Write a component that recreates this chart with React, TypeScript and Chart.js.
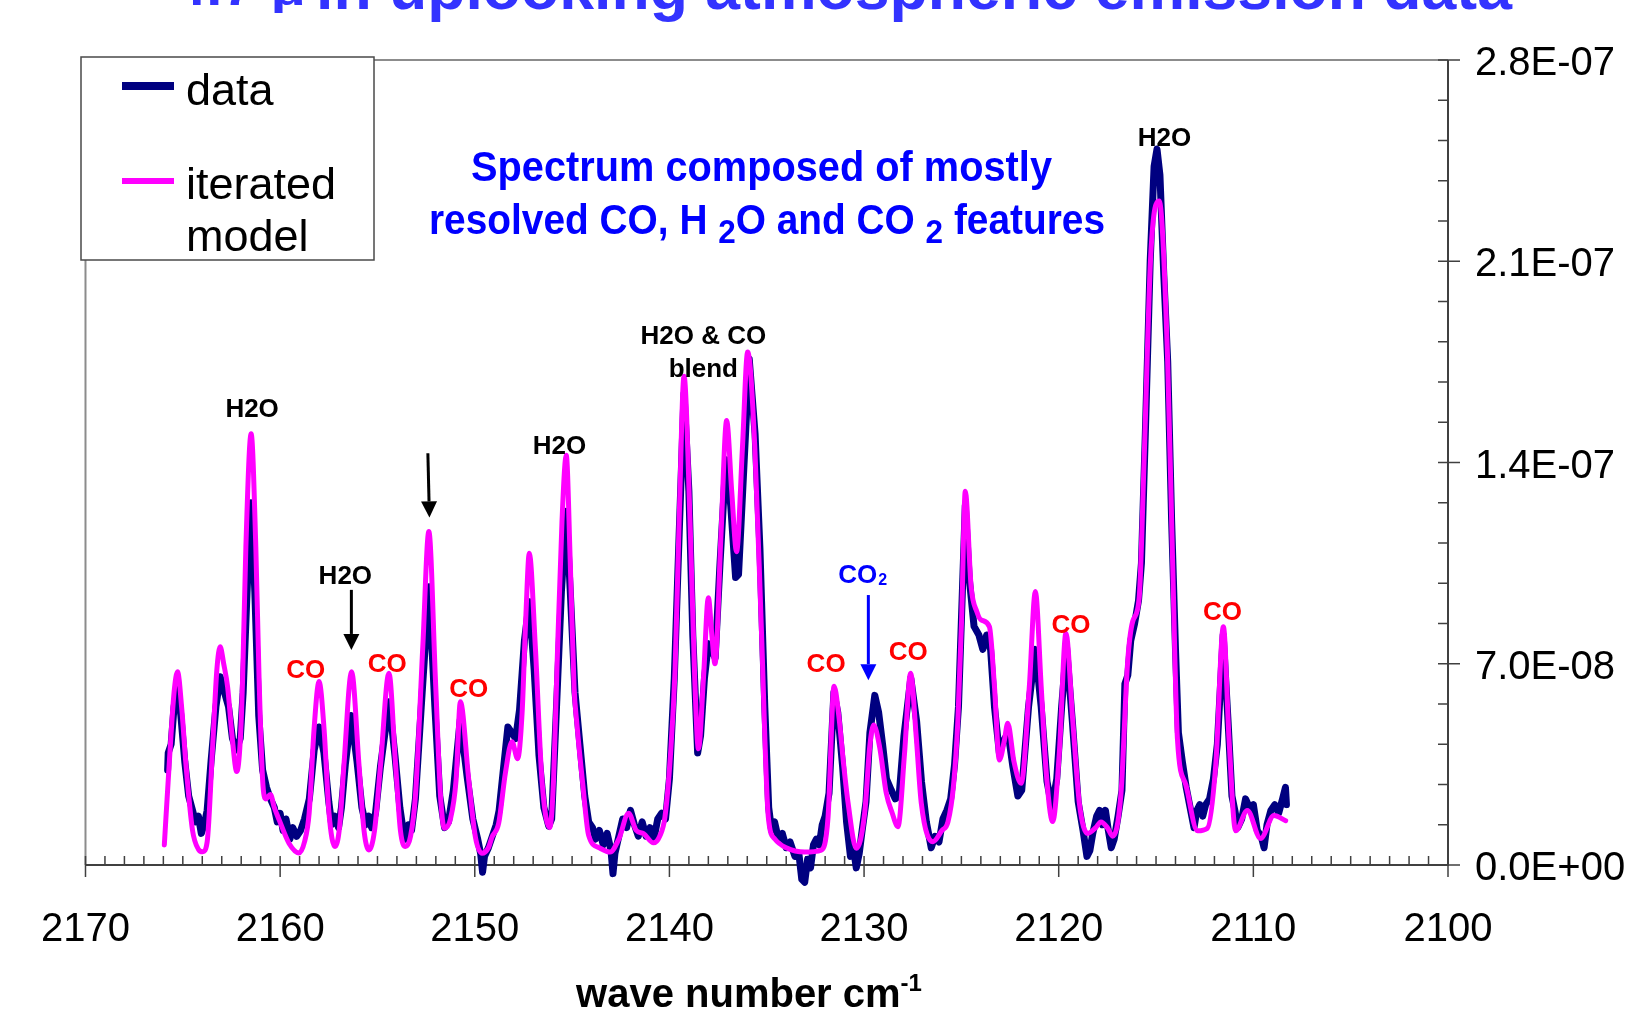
import React, { useEffect, useRef } from "react";
import { Chart, registerables } from "chart.js";

Chart.register(...registerables);

// Radiance values below are in units of 1e-8; the right-hand axis labels convert back.
const RADIANCE_UNIT = 1e-8;

// Measured spectrum (wave number in cm-1, radiance / 1e-8)
const DATA_WAVENUMBER = [
  2165.78, 2165.75, 2165.6, 2165.45, 2165.27, 2165.1, 2164.9, 2164.7, 2164.5, 2164.35,
  2164.2, 2164.05, 2163.9, 2163.75, 2163.55, 2163.3, 2163.08, 2162.9, 2162.65, 2162.45,
  2162.25, 2162.05, 2161.9, 2161.7, 2161.5, 2161.3, 2161.1, 2160.9, 2160.7, 2160.5,
  2160.3, 2160.15, 2160.0, 2159.85, 2159.7, 2159.5, 2159.35, 2159.15, 2158.95, 2158.75,
  2158.5, 2158.25, 2158.0, 2157.75, 2157.5, 2157.35, 2157.2, 2157.0, 2156.85, 2156.65,
  2156.35, 2156.05, 2155.8, 2155.6, 2155.45, 2155.3, 2155.1, 2154.85, 2154.4, 2154.1,
  2153.85, 2153.7, 2153.55, 2153.4, 2153.25, 2153.05, 2152.75, 2152.35, 2152.05, 2151.8,
  2151.55, 2151.35, 2151.1, 2150.75, 2150.4, 2150.1, 2149.85, 2149.7, 2149.6, 2149.5,
  2149.3, 2149.1, 2148.9, 2148.75, 2148.55, 2148.3, 2148.1, 2147.9, 2147.7, 2147.45,
  2147.2, 2146.95, 2146.7, 2146.45, 2146.2, 2146.05, 2145.8, 2145.55, 2145.3, 2145.1,
  2144.85, 2144.6, 2144.35, 2144.15, 2143.95, 2143.8, 2143.6, 2143.4, 2143.2, 2143.0,
  2142.9, 2142.8, 2142.6, 2142.4, 2142.2, 2142.0, 2141.8, 2141.6, 2141.4, 2141.2,
  2141.0, 2140.8, 2140.6, 2140.4, 2140.2, 2140.0, 2139.75, 2139.5, 2139.25, 2139.0,
  2138.8, 2138.55, 2138.4, 2138.2, 2138.0, 2137.85, 2137.65, 2137.4, 2137.1, 2136.85,
  2136.6, 2136.45, 2136.2, 2135.9, 2135.6, 2135.35, 2135.1, 2134.9, 2134.75, 2134.6,
  2134.4, 2134.2, 2134.0, 2133.8, 2133.55, 2133.35, 2133.2, 2133.05, 2132.9, 2132.75,
  2132.6, 2132.45, 2132.3, 2132.15, 2132.0, 2131.8, 2131.55, 2131.35, 2131.1, 2130.9,
  2130.7, 2130.55, 2130.4, 2130.25, 2130.1, 2129.9, 2129.7, 2129.45, 2129.25, 2129.05,
  2128.85, 2128.6, 2128.4, 2128.2, 2127.95, 2127.6, 2127.3, 2127.05, 2126.8, 2126.55,
  2126.35, 2126.15, 2125.95, 2125.75, 2125.55, 2125.35, 2125.15, 2124.95, 2124.8, 2124.6,
  2124.35, 2124.1, 2123.9, 2123.7, 2123.5, 2123.3, 2123.05, 2122.85, 2122.6, 2122.35,
  2122.1, 2121.9, 2121.55, 2121.2, 2120.9, 2120.6, 2120.35, 2120.1, 2119.85, 2119.6,
  2119.3, 2119.0, 2118.75, 2118.55, 2118.4, 2118.25, 2118.05, 2117.9, 2117.75, 2117.6,
  2117.45, 2117.3, 2117.15, 2116.95, 2116.75, 2116.6, 2116.45, 2116.3, 2116.1, 2115.9,
  2115.75, 2115.55, 2115.3, 2115.1, 2114.95, 2114.8, 2114.6, 2114.4, 2114.2, 2114.0,
  2113.85, 2113.65, 2113.45, 2113.25, 2113.05, 2112.9, 2112.75, 2112.6, 2112.45, 2112.25,
  2112.05, 2111.85, 2111.55, 2111.3, 2111.1, 2110.95, 2110.8, 2110.6, 2110.4, 2110.2,
  2110.0, 2109.8, 2109.6, 2109.45, 2109.3, 2109.1, 2108.9, 2108.7, 2108.5, 2108.35,
  2108.3,
];
const DATA_RADIANCE = [
  3.3, 3.9, 4.2, 5.5, 6.2, 5.2, 3.6, 2.4, 1.9, 1.5,
  1.7, 1.1, 1.4, 1.9, 3.6, 5.5, 6.55, 6.1, 5.5, 4.4,
  4.0, 4.4, 6.0, 9.5, 12.6, 9.5, 5.2, 3.3, 2.7, 2.3,
  2.0, 1.5, 1.8, 1.2, 1.6, 0.9, 1.3, 1.0, 1.2, 1.6,
  2.3, 4.0, 4.8, 3.9, 2.2, 1.4, 1.7, 1.3, 2.0, 3.5,
  5.2, 3.6, 2.0, 1.4, 1.7, 1.3, 1.8, 3.4, 5.68, 3.8,
  2.0, 1.3, 0.9, 1.4, 1.2, 2.3, 5.5, 9.68, 5.5, 2.4,
  1.3, 1.5, 2.6, 5.04, 3.1, 1.6, 0.9, 0.4, -0.25, 0.3,
  0.6, 1.0, 1.4, 1.9, 3.2, 4.8, 4.6, 4.4, 5.4, 7.8,
  9.16, 6.8, 3.8, 2.0, 1.35, 1.6, 5.5, 9.5, 12.3, 9.6,
  6.0, 4.2, 2.4, 1.5, 1.3, 0.9, 1.2, 0.7, 1.1, 0.5,
  -0.3, 0.4, 1.0, 1.6, 1.3, 1.9, 1.4, 1.0, 1.5, 1.0,
  1.3, 0.9, 1.6, 1.8, 1.6, 3.0, 6.5, 11.5, 16.4, 13.0,
  8.0, 3.9, 4.5, 6.5, 7.7, 7.5, 7.2, 10.5, 14.1, 12.5,
  10.0, 10.1, 13.5, 17.6, 15.0, 11.0, 5.5, 2.0, 1.2, 1.5,
  0.9, 1.1, 0.6, 0.8, 0.3, 0.4, -0.5, -0.6, 0.2, -0.1,
  0.7, 0.9, 0.7, 1.4, 1.7, 2.5, 6.0, 5.3, 3.4, 1.5,
  0.3, 0.6, -0.1, 0.4, 1.2, 2.2, 4.6, 5.9, 5.3, 4.2,
  3.0, 2.6, 2.3, 2.4, 4.5, 6.5, 5.0, 2.9, 1.5, 0.6,
  1.0, 0.8, 1.6, 1.9, 2.3, 3.5, 5.5, 9.5, 12.5, 10.0,
  8.3, 8.0, 7.5, 8.0, 7.5, 5.5, 3.9, 4.3, 4.6, 3.4,
  2.4, 2.6, 5.5, 7.5, 5.5, 2.9, 2.0, 3.0, 5.5, 7.6,
  5.0, 2.2, 1.2, 0.3, 0.5, 1.1, 1.7, 1.9, 1.4, 1.9,
  1.2, 0.6, 0.9, 1.7, 2.6, 6.3, 6.6, 7.8, 8.4, 9.2,
  10.5, 15.0, 21.0, 24.3, 24.9, 24.0, 20.5, 17.5, 12.0, 7.5,
  4.6, 3.6, 2.7, 2.0, 1.3, 1.9, 2.1, 1.7, 2.1, 2.3,
  3.0, 4.2, 8.0, 5.0, 2.4, 1.9, 1.3, 1.6, 2.3, 2.0,
  2.1, 1.2, 1.0, 0.6, 1.4, 1.9, 2.1, 1.8, 2.3, 2.7,
  2.1,
];

// Iterated model spectrum (wave number in cm-1, radiance / 1e-8)
const MODEL_WAVENUMBER = [
  2165.95, 2165.7, 2165.45, 2165.27, 2165.05, 2164.84, 2164.5, 2164.2, 2163.98, 2163.75,
  2163.47, 2163.25, 2163.08, 2162.9, 2162.7, 2162.45, 2162.23, 2162.05, 2161.93, 2161.76,
  2161.49, 2161.25, 2161.08, 2160.9, 2160.74, 2160.5, 2160.3, 2160.05, 2159.54, 2159.03,
  2158.75, 2158.51, 2158.26, 2158.0, 2157.74, 2157.49, 2157.18, 2156.95, 2156.72, 2156.33,
  2155.95, 2155.69, 2155.44, 2155.15, 2154.84, 2154.41, 2154.07, 2153.82, 2153.56, 2153.3,
  2153.05, 2152.67, 2152.36, 2152.02, 2151.76, 2151.56, 2151.25, 2150.96, 2150.74, 2150.31,
  2149.97, 2149.63, 2149.3, 2149.11, 2148.77, 2148.43, 2148.09, 2147.8, 2147.57, 2147.37,
  2147.2, 2146.89, 2146.55, 2146.15, 2145.95, 2145.78, 2145.52, 2145.3, 2145.1, 2144.9,
  2144.75, 2144.45, 2144.15, 2143.6, 2143.05, 2142.6, 2142.1, 2141.7, 2141.33, 2140.82,
  2140.5, 2140.23, 2139.95, 2139.71, 2139.5, 2139.25, 2138.94, 2138.7, 2138.51, 2138.25,
  2138.0, 2137.82, 2137.66, 2137.35, 2137.06, 2136.8, 2136.55, 2136.25, 2135.98, 2135.61,
  2135.27, 2134.92, 2134.58, 2134.0, 2133.05, 2132.2, 2131.85, 2131.54, 2131.3, 2131.05,
  2130.82, 2130.4, 2129.97, 2129.71, 2129.51, 2129.2, 2128.86, 2128.55, 2128.26, 2127.92,
  2127.61, 2127.32, 2127.06, 2126.46, 2126.0, 2125.69, 2125.4, 2125.18, 2124.99, 2124.8,
  2124.5, 2124.2, 2123.98, 2123.56, 2123.3, 2123.05, 2122.8, 2122.62, 2122.3, 2121.93,
  2121.51, 2121.2, 2120.9, 2120.65, 2120.31, 2119.97, 2119.63, 2119.28, 2118.94, 2118.51,
  2118.1, 2117.83, 2117.5, 2117.23, 2116.8, 2116.46, 2116.2, 2115.87, 2115.61, 2115.27,
  2114.84, 2114.41, 2114.15, 2113.9, 2113.47, 2112.87, 2112.36, 2111.93, 2111.54, 2111.25,
  2110.91, 2110.31, 2109.63, 2108.94, 2108.34,
];
const MODEL_RADIANCE = [
  0.7, 3.5, 6.0, 6.72, 5.4, 3.5, 1.2, 0.55, 0.46, 0.8,
  4.1, 6.8, 7.59, 7.0, 6.2, 4.35, 3.25, 4.3, 6.43, 11.07,
  15.0, 11.07, 6.43, 2.96, 2.3, 2.45, 2.0, 1.57, 0.75, 0.42,
  0.8, 1.8, 4.7, 6.38, 4.7, 1.8, 0.64, 1.3, 3.5, 6.72,
  3.5, 1.2, 0.52, 1.2, 3.5, 6.67, 3.5, 1.2, 0.64, 1.0,
  2.4, 7.6, 11.6, 6.43, 2.4, 1.28, 1.6, 2.96, 5.68, 2.96,
  0.98, 0.41, 0.6, 0.98, 1.46, 3.19, 4.29, 3.7, 5.28, 8.75,
  10.84, 7.6, 2.96, 1.3, 3.0, 6.8, 11.94, 14.25, 10.65, 6.2,
  4.88, 2.8, 1.03, 0.6, 0.45, 0.9, 1.8, 1.2, 1.09, 0.77,
  1.0, 1.67, 3.8, 6.8, 12.0, 17.0, 11.94, 6.5, 4.04, 6.5,
  9.3, 8.0, 7.0, 11.5, 15.46, 13.0, 10.9, 14.5, 17.84, 14.5,
  8.09, 1.67, 0.9, 0.6, 0.45, 0.52, 1.67, 6.22, 5.2, 3.5,
  2.15, 0.58, 1.8, 4.1, 4.87, 4.1, 2.5, 1.8, 1.33, 3.89,
  6.67, 4.46, 2.15, 0.81, 1.2, 1.5, 2.8, 5.04, 8.52, 13.0,
  9.68, 8.8, 8.52, 8.29, 6.2, 3.65, 4.3, 4.93, 3.6, 2.84,
  6.2, 9.51, 6.2, 3.3, 1.51, 3.89, 8.06, 5.04, 2.15, 1.1,
  1.3, 1.5, 1.3, 1.0, 2.5, 7.05, 8.47, 9.26, 14.14, 21.24,
  23.1, 17.7, 10.6, 4.38, 2.79, 1.19, 1.28, 3.5, 8.29, 4.38,
  1.19, 1.9, 0.92, 1.72, 1.54,
];

const SERIES_NAMES = ["data", "iterated model"];

// Axis ranges and tick spacing
const X_MIN = 2100;
const X_MAX = 2170;
const X_MAJOR_STEP = 10;
const X_MINOR_STEP = 1;
const Y_MIN = 0;
const Y_MAX = 28;
const Y_MAJOR_STEP = 7;
const Y_MINOR_STEP = 1.4;

// Line identifications placed in data coordinates (wave number, radiance / 1e-8)
const SPECIES_LABELS = [
  { text: "H2O", wn: 2161.44, val: 15.92 },
  { text: "H2O", wn: 2156.65, val: 10.11 },
  { text: "H2O", wn: 2145.65, val: 14.63 },
  { text: "H2O & CO", wn: 2138.26, val: 18.43 },
  { text: "blend", wn: 2138.26, val: 17.3 },
  { text: "H2O", wn: 2114.57, val: 25.32 },
];
const CO_LABELS = [
  { wn: 2158.69, val: 6.83 },
  { wn: 2154.5, val: 7.04 },
  { wn: 2150.31, val: 6.15 },
  { wn: 2131.95, val: 7.03 },
  { wn: 2127.73, val: 7.45 },
  { wn: 2119.37, val: 8.39 },
  { wn: 2111.59, val: 8.85 },
];
const CO2_LABEL = { wn: 2130.33, val: 10.12 };
const ARROWS = [
  { fromWn: 2152.41, fromVal: 14.32, toWn: 2152.33, toVal: 12.09, color: "#000000" },
  { fromWn: 2156.34, fromVal: 9.57, toWn: 2156.34, toVal: 7.48, color: "#000000" },
  { fromWn: 2129.78, fromVal: 9.39, toWn: 2129.78, toVal: 6.43, color: "#0000ff" },
];

const TITLE_PREFIX = "4.7 μ";
const TITLE_MAIN = "in uplooking atmospheric emission data";
const NOTE_LINE_1 = "Spectrum composed of mostly";
const NOTE_LINE_2 = [
  { text: "resolved CO, H ", sub: false },
  { text: "2", sub: true },
  { text: "O and CO ", sub: false },
  { text: "2", sub: true },
  { text: " features", sub: false },
];
const X_TITLE = "wave number cm";
const X_TITLE_SUP = "-1";

const FONT = "'Liberation Sans', Arial, Helvetica, sans-serif";
const AXIS_COLOR = "#404040";
const DATA_COLOR = "#000080";
const MODEL_COLOR = "#ff00ff";

function formatRadiance(v: number): string {
  const r = v * RADIANCE_UNIT;
  if (Math.abs(r) < 1e-30) return "0.0E+00";
  let e = Math.floor(Math.log10(Math.abs(r)) + 1e-9);
  let m = r / Math.pow(10, e);
  if (Math.abs(m) >= 9.95) {
    e += 1;
    m /= 10;
  }
  const exp = String(Math.abs(e)).padStart(2, "0");
  return `${m.toFixed(1)}E${e < 0 ? "-" : "+"}${exp}`;
}

type Run = { text: string; size: number; weight: string; dy: number };

// Draws a row of text runs, optionally squeezed horizontally to a given width.
function drawRuns(ctx: CanvasRenderingContext2D, runs: Run[], x: number, baseline: number, width: number | null, align: "left" | "center") {
  let total = 0;
  for (const r of runs) {
    ctx.font = `${r.weight} ${r.size}px ${FONT}`;
    total += ctx.measureText(r.text).width;
  }
  const sx = width ? width / total : 1;
  let cx = align === "center" ? x - (total * sx) / 2 : x;
  ctx.textAlign = "left";
  ctx.textBaseline = "alphabetic";
  for (const r of runs) {
    ctx.font = `${r.weight} ${r.size}px ${FONT}`;
    const rw = ctx.measureText(r.text).width;
    ctx.save();
    ctx.translate(cx, baseline + r.dy);
    ctx.scale(sx, 1);
    ctx.fillText(r.text, 0, 0);
    ctx.restore();
    cx += rw * sx;
  }
}

function drawArrow(ctx: CanvasRenderingContext2D, x1: number, y1: number, x2: number, y2: number, color: string) {
  const head = 16;
  const half = 8;
  const ang = Math.atan2(y2 - y1, x2 - x1);
  const bx = x2 - head * Math.cos(ang);
  const by = y2 - head * Math.sin(ang);
  ctx.strokeStyle = color;
  ctx.fillStyle = color;
  ctx.lineWidth = 3;
  ctx.lineCap = "butt";
  ctx.beginPath();
  ctx.moveTo(x1, y1);
  ctx.lineTo(bx, by);
  ctx.stroke();
  ctx.beginPath();
  ctx.moveTo(x2, y2);
  ctx.lineTo(bx + half * Math.sin(ang), by - half * Math.cos(ang));
  ctx.lineTo(bx - half * Math.sin(ang), by + half * Math.cos(ang));
  ctx.closePath();
  ctx.fill();
}

const spectrumDecor = {
  id: "spectrumDecor",
  beforeDatasetsDraw(chart: any) {
    const { ctx, chartArea: a } = chart;
    const xs = chart.scales.x;
    const ys = chart.scales.y;
    ctx.save();
    // light frame along the top and left of the plot area
    ctx.strokeStyle = "#8c8c8c";
    ctx.lineWidth = 2;
    ctx.beginPath();
    ctx.moveTo(a.left, a.bottom);
    ctx.lineTo(a.left, a.top);
    ctx.lineTo(a.right, a.top);
    ctx.stroke();

    // axis lines
    ctx.strokeStyle = AXIS_COLOR;
    ctx.lineWidth = 2;
    ctx.beginPath();
    ctx.moveTo(a.left, a.bottom);
    ctx.lineTo(a.right, a.bottom);
    ctx.moveTo(a.right, a.bottom + 1);
    ctx.lineTo(a.right, a.top);
    ctx.stroke();

    // major ticks cross the axes, minor ticks point inward
    ctx.lineWidth = 1.5;
    ctx.beginPath();
    const nx = Math.round((X_MAX - X_MIN) / X_MINOR_STEP);
    const xEvery = Math.round(X_MAJOR_STEP / X_MINOR_STEP);
    for (let i = 0; i <= nx; i++) {
      const px = xs.getPixelForValue(X_MIN + i * X_MINOR_STEP);
      const major = i % xEvery === 0;
      ctx.moveTo(px, a.bottom - 9);
      ctx.lineTo(px, a.bottom + (major ? 12 : 0));
    }
    const ny = Math.round((Y_MAX - Y_MIN) / Y_MINOR_STEP);
    const yEvery = Math.round(Y_MAJOR_STEP / Y_MINOR_STEP);
    for (let i = 0; i <= ny; i++) {
      const py = ys.getPixelForValue(Y_MIN + i * Y_MINOR_STEP);
      const major = i % yEvery === 0;
      ctx.moveTo(a.right - 10, py);
      ctx.lineTo(a.right + (major ? 12 : 0), py);
    }
    ctx.stroke();
    ctx.restore();
  },
  afterDatasetsDraw(chart: any) {
    const { ctx } = chart;
    const xs = chart.scales.x;
    const ys = chart.scales.y;
    ctx.save();

    // species labels
    const labelSize = 26;
    ctx.textAlign = "center";
    ctx.textBaseline = "alphabetic";
    ctx.font = `bold ${labelSize}px ${FONT}`;
    ctx.fillStyle = "#000000";
    for (const l of SPECIES_LABELS) {
      ctx.fillText(l.text, xs.getPixelForValue(l.wn), ys.getPixelForValue(l.val) + labelSize * 0.358);
    }
    ctx.fillStyle = "#ff0000";
    for (const l of CO_LABELS) {
      ctx.fillText("CO", xs.getPixelForValue(l.wn), ys.getPixelForValue(l.val) + labelSize * 0.358);
    }
    // CO2 with subscript
    ctx.fillStyle = "#0000ff";
    const cx = xs.getPixelForValue(CO2_LABEL.wn);
    const cb = ys.getPixelForValue(CO2_LABEL.val) + labelSize * 0.358;
    const coW = ctx.measureText("CO").width;
    ctx.fillText("CO", cx, cb);
    ctx.textAlign = "left";
    ctx.font = `bold 16px ${FONT}`;
    ctx.fillText("2", cx + coW / 2 + 1, cb + 2);

    for (const ar of ARROWS) {
      drawArrow(
        ctx,
        xs.getPixelForValue(ar.fromWn),
        ys.getPixelForValue(ar.fromVal),
        xs.getPixelForValue(ar.toWn),
        ys.getPixelForValue(ar.toVal),
        ar.color
      );
    }

    // note in the upper middle of the plot
    ctx.fillStyle = "#0000ff";
    drawRuns(ctx, [{ text: NOTE_LINE_1, size: 42, weight: "bold", dy: 0 }], 761.5, 181, 581, "center");
    drawRuns(
      ctx,
      NOTE_LINE_2.map((r) => ({ text: r.text, size: r.sub ? 34 : 42, weight: "bold", dy: r.sub ? 9 : 0 })),
      767,
      234,
      676,
      "center"
    );

    // legend
    const box = { left: 81, top: 57, right: 374, bottom: 260 };
    ctx.fillStyle = "#ffffff";
    ctx.fillRect(box.left, box.top, box.right - box.left, box.bottom - box.top);
    ctx.strokeStyle = "#4a4a4a";
    ctx.lineWidth = 1.5;
    ctx.strokeRect(box.left, box.top, box.right - box.left, box.bottom - box.top);
    ctx.lineCap = "butt";
    ctx.strokeStyle = DATA_COLOR;
    ctx.lineWidth = 8;
    ctx.beginPath();
    ctx.moveTo(122, 86);
    ctx.lineTo(174, 86);
    ctx.stroke();
    ctx.strokeStyle = MODEL_COLOR;
    ctx.lineWidth = 6;
    ctx.beginPath();
    ctx.moveTo(122, 181);
    ctx.lineTo(174, 181);
    ctx.stroke();
    ctx.fillStyle = "#000000";
    ctx.font = `45px ${FONT}`;
    ctx.textAlign = "left";
    ctx.textBaseline = "alphabetic";
    const [dataName, modelName] = SERIES_NAMES;
    ctx.fillText(dataName, 186, 105);
    const modelWords = modelName.split(" ");
    ctx.fillText(modelWords[0], 186, 199);
    ctx.fillText(modelWords[1], 186, 251);

    ctx.restore();
  },
  afterDraw(chart: any) {
    const { ctx } = chart;
    ctx.save();
    // page title (its upper part runs off the top edge)
    ctx.fillStyle = "#3333ff";
    drawRuns(ctx, [{ text: TITLE_PREFIX, size: 36, weight: "bold", dy: 0 }], 174, 5, 132, "left");
    drawRuns(ctx, [{ text: TITLE_MAIN, size: 62, weight: "bold", dy: 0 }], 316, 9, 1196, "left");

    // x-axis title with superscript
    ctx.fillStyle = "#000000";
    drawRuns(
      ctx,
      [
        { text: X_TITLE, size: 40, weight: "bold", dy: 0 },
        { text: X_TITLE_SUP, size: 24, weight: "bold", dy: -16 },
      ],
      749,
      1007,
      null,
      "center"
    );
    ctx.restore();
  },
};

export default function App() {
  const canvasRef = useRef<HTMLCanvasElement | null>(null);

  useEffect(() => {
    const canvas = canvasRef.current;
    if (!canvas) return;

    const dataPoints = DATA_WAVENUMBER.map((x, i) => ({ x, y: DATA_RADIANCE[i] }));
    const modelPoints = MODEL_WAVENUMBER.map((x, i) => ({ x, y: MODEL_RADIANCE[i] }));

    const chart = new Chart(canvas, {
      type: "line",
      data: {
        datasets: [
          {
            label: SERIES_NAMES[0],
            data: dataPoints,
            borderColor: DATA_COLOR,
            borderWidth: 7,
            pointRadius: 0,
            tension: 0,
            borderJoinStyle: "round",
            borderCapStyle: "round",
            clip: false,
            order: 2,
          },
          {
            label: SERIES_NAMES[1],
            data: modelPoints,
            borderColor: MODEL_COLOR,
            borderWidth: 5,
            pointRadius: 0,
            cubicInterpolationMode: "monotone",
            borderJoinStyle: "round",
            borderCapStyle: "round",
            clip: false,
            order: 1,
          },
        ],
      },
      options: {
        animation: false,
        responsive: true,
        maintainAspectRatio: false,
        events: [],
        layout: { padding: { left: 83, top: 60, right: 0, bottom: 0 } },
        plugins: {
          legend: { display: false },
          tooltip: { enabled: false },
          title: { display: false },
        },
        scales: {
          x: {
            type: "linear",
            position: "bottom",
            reverse: true,
            min: X_MIN,
            max: X_MAX,
            grid: { display: false, drawTicks: false },
            border: { display: false },
            ticks: {
              stepSize: X_MAJOR_STEP,
              autoSkip: false,
              maxRotation: 0,
              padding: 41,
              color: "#000000",
              font: { family: FONT, size: 40 },
              callback: (v: any) => String(v),
            },
            afterFit: (s: any) => {
              s.height = 157;
            },
          },
          y: {
            type: "linear",
            position: "right",
            min: Y_MIN,
            max: Y_MAX,
            grid: { display: false, drawTicks: false },
            border: { display: false },
            ticks: {
              stepSize: Y_MAJOR_STEP,
              padding: 27,
              labelOffset: 4,
              color: "#000000",
              font: { family: FONT, size: 40 },
              callback: (v: any) => formatRadiance(Number(v)),
            },
            afterFit: (s: any) => {
              s.width = 204;
            },
          },
        },
      },
      plugins: [spectrumDecor],
    } as any);

    return () => chart.destroy();
  }, []);

  return (
    <div style={{ position: "fixed", left: 0, top: 0, width: 1652, height: 1022, background: "#ffffff" }}>
      <canvas ref={canvasRef} />
    </div>
  );
}
